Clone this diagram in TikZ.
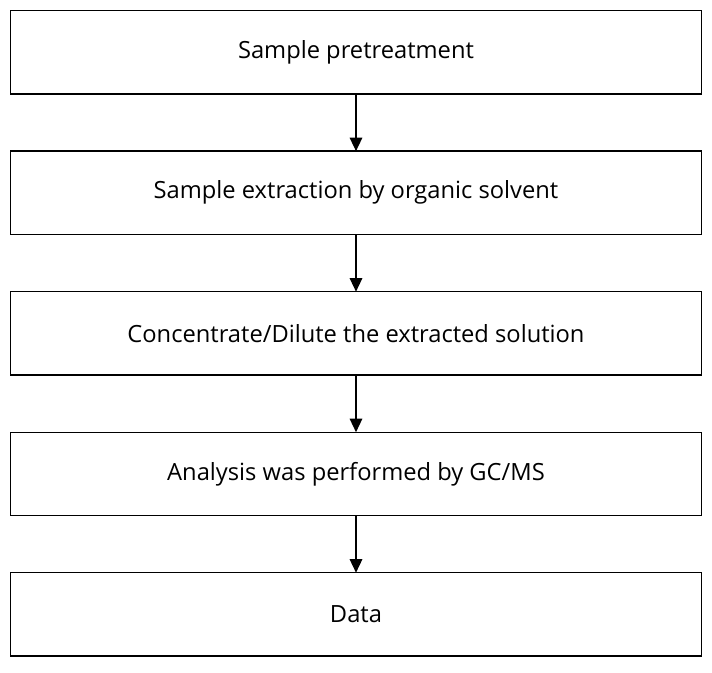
\documentclass[tikz,border=0pt]{standalone}
\usepackage{fontspec}
\setmainfont{Open Sans}
\usetikzlibrary{chains, positioning, arrows.meta}

\tikzset{stepbox/.style={draw, line width=1.4pt, outer sep=0pt, inner sep=0pt,
    minimum width=714pt, minimum height=86pt, font=\fontsize{24.5}{29}\selectfont}}

\begin{document}
\begin{tikzpicture}[node distance=59.25pt, >={Triangle[width=13pt,length=14pt]}]
    \useasboundingbox (0,-695pt) rectangle (736pt,0);

    \begin{scope}[start chain=going below]
      \node[on chain, stepbox, anchor=north west] (s1) at (11pt,-11pt) {Sample pretreatment};
      \node[on chain, stepbox] (s2) {Sample extraction by organic solvent};
      \node[on chain, stepbox] (s3) {Concentrate/Dilute the extracted solution};
      \node[on chain, stepbox] (s4) {Analysis was performed by GC/MS};
      \node[on chain, stepbox] (s5) {Data};
    \end{scope}

    \draw[->, line width=1.4pt] (s1) -- (s2);
    \draw[->, line width=1.4pt] (s2) -- (s3);
    \draw[->, line width=1.4pt] (s3) -- (s4);
    \draw[->, line width=1.4pt] (s4) -- (s5);
  \end{tikzpicture}
\end{document}
